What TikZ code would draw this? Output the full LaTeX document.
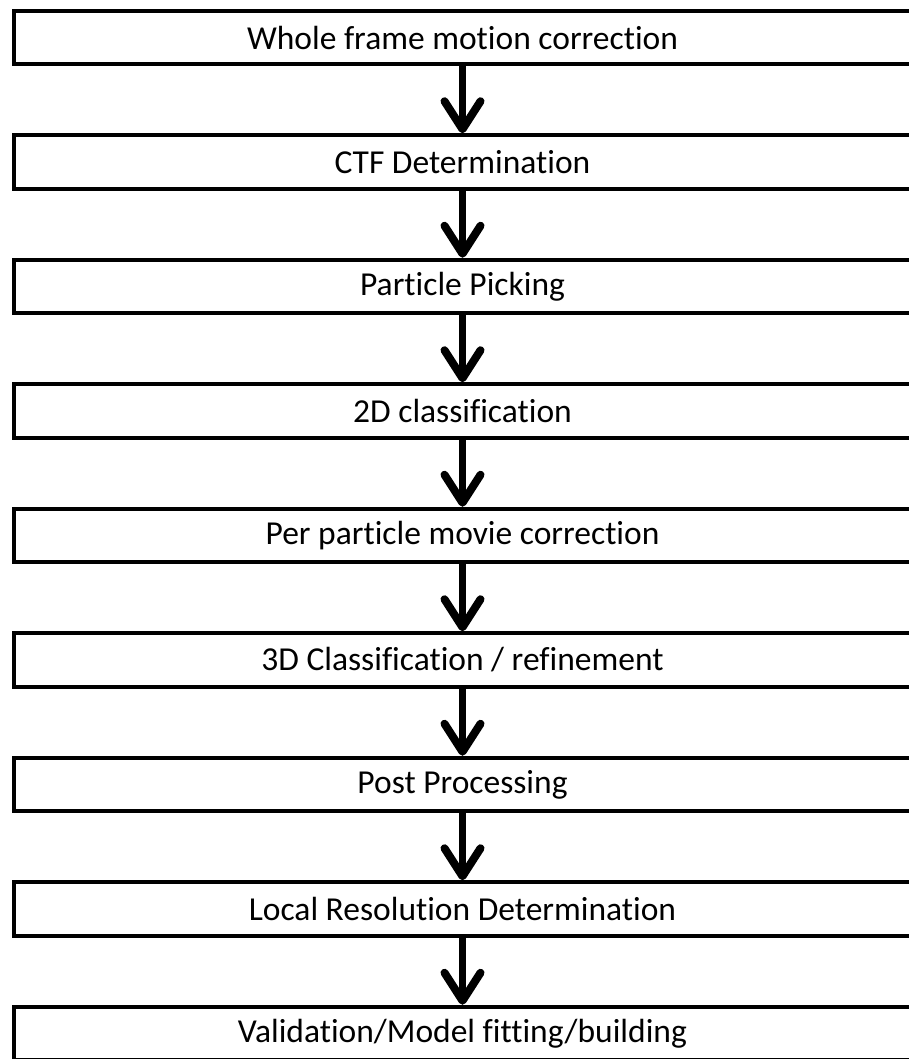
\documentclass[tikz,border=0pt]{standalone}
\usepackage{fontspec}
\setmainfont{Carlito}[Ligatures=NoCommon]
\usetikzlibrary{arrows.meta}
\tikzset{
  stepbox/.style={draw, line width=4pt, rectangle, minimum width=897pt, minimum height=53.5pt, inner sep=0pt, font=\fontsize{33.5}{38}\selectfont},
  flow/.style={line width=7pt, -{Straight Barb[length=28pt, width=36pt, line width=8pt, round]}}
}
\begin{document}
\begin{tikzpicture}[x=1pt, y=-1pt]
    \clip (0,0) rectangle (909,1059);
    \foreach \i/\t in {1/{Whole frame motion correction}, 2/{CTF Determination}, 3/{Particle Picking}, 4/{2D classification}, 5/{Per particle movie correction}, 6/{3D Classification / refinement}, 7/{Post Processing}, 8/{Local Resolution Determination}, 9/{Validation/Model fitting/building}}{
    \node[stepbox] (s\i) at (462.5, {37.5+124.5*(\i-1)}) {\t};}
    \foreach \i [count=\j from 2] in {1,...,8}{
    \draw[flow] (s\i.south) -- (s\j.north);}
\end{tikzpicture}
\end{document}
